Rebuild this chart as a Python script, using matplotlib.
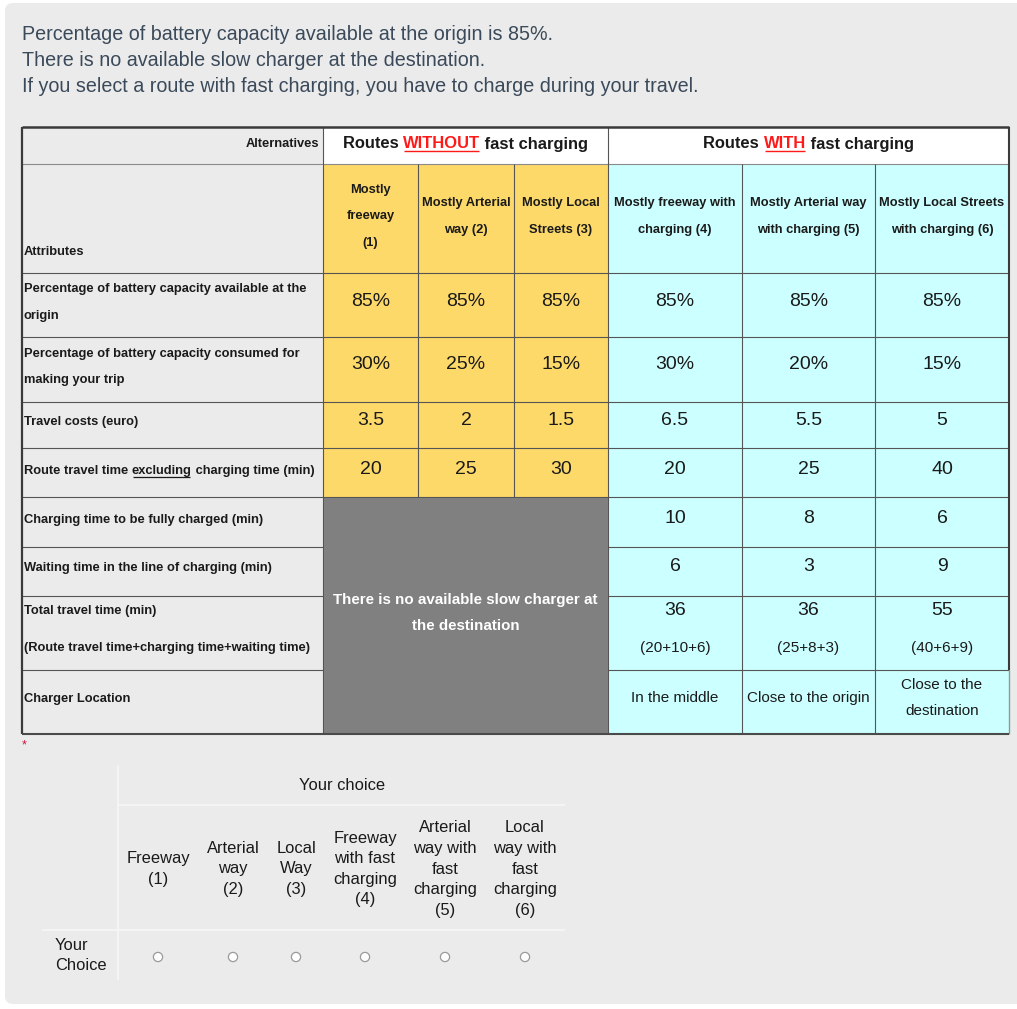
import matplotlib
matplotlib.use("Agg")
import matplotlib.pyplot as plt
from matplotlib.patches import Rectangle, FancyBboxPatch, Circle

plt.rcParams['font.family'] = ['Liberation Sans', 'DejaVu Sans']

# ---------------- data ----------------
intro_lines = [
    "Percentage of battery capacity available at the origin is 85%.",
    "There is no available slow charger at the destination.",
    "If you select a route with fast charging, you have to charge during your travel.",
]
group_titles = [("Routes ", "WITHOUT", " fast charging"), ("Routes ", "WITH", " fast charging")]
col_headers = [
    ["Mostly", "freeway", "(1)"],
    ["Mostly Arterial", "way (2)"],
    ["Mostly Local", "Streets (3)"],
    ["Mostly freeway with", "charging (4)"],
    ["Mostly Arterial way", "with charging (5)"],
    ["Mostly Local Streets", "with charging (6)"],
]
attributes = [
    ["Percentage of battery capacity available at the", "origin"],
    ["Percentage of battery capacity consumed for", "making your trip"],
    ["Travel costs (euro)"],
    ["Route travel time excluding charging time (min)"],
    ["Charging time to be fully charged (min)"],
    ["Waiting time in the line of charging (min)"],
    ["Total travel time (min)", "(Route travel time+charging time+waiting time)"],
    ["Charger Location"],
]
battery_available = [85, 85, 85, 85, 85, 85]
battery_consumed = [30, 25, 15, 30, 20, 15]
travel_costs = ["3.5", "2", "1.5", "6.5", "5.5", "5"]
route_time = [20, 25, 30, 20, 25, 40]
charging_time = [10, 8, 6]
waiting_time = [6, 3, 9]
charger_location = [["In the middle"], ["Close to the origin"], ["Close to the", "destination"]]
no_charger_text = ["There is no available slow charger at", "the destination"]
choice_labels = [
    ["Freeway", "(1)"],
    ["Arterial", "way", "(2)"],
    ["Local", "Way", "(3)"],
    ["Freeway", "with fast", "charging", "(4)"],
    ["Arterial", "way with", "fast", "charging", "(5)"],
    ["Local", "way with", "fast", "charging", "(6)"],
]

# ---------------- layout ----------------
W, H = 1017, 1009
fig = plt.figure(figsize=(W / 100, H / 100), dpi=100)
fig.patch.set_facecolor("white")
ax = fig.add_axes([0, 0, 1, 1])
ax.set_xlim(0, W)
ax.set_ylim(H, 0)
ax.axis("off")

PAGE = "#ebebeb"
YEL = "#fdd969"
CYAN = "#ccffff"
GREY = "#808080"
TXT = "#1a1a1a"
INTRO = "#3b4a5a"
GRID = "#555555"
BFS = 9.3      # small bold labels
VFS = 14.0     # cell values
SFS = 11.0     # small cell text
CFS = 11.9     # choice table
VA = "center_baseline"
DY = -1.5


def txt(x, y, s, **kw):
    kw.setdefault("va", VA)
    return ax.text(x, y + DY, s, **kw)


ax.add_patch(FancyBboxPatch((5, 3), W + 20, 1001, boxstyle="round,pad=0,rounding_size=8",
                            fc=PAGE, ec="none", zorder=0))

for i, s in enumerate(intro_lines):
    txt(22, 34 + 26 * i, s, fontsize=14.2, color=INTRO, ha="left")

xs = [22, 323, 418, 514, 608, 742, 875, 1009]
rows = [127, 164, 273, 337, 402, 448, 497, 547, 596, 670, 734]
cx = [(xs[i + 1] + xs[i + 2]) / 2 for i in range(6)]


def rect(x0, y0, x1, y1, fc, z=1):
    ax.add_patch(Rectangle((x0, y0), x1 - x0, y1 - y0, fc=fc, ec="none", zorder=z))


def hline(y, x0, x1, c=GRID, lw=0.8, z=3):
    ax.plot([x0, x1], [y, y], color=c, lw=lw, zorder=z, solid_capstyle="butt")


def vline(x, y0, y1, c=GRID, lw=0.8, z=3):
    ax.plot([x, x], [y0, y1], color=c, lw=lw, zorder=z, solid_capstyle="butt")


def lines_at(x, yc, lines, gap, **kw):
    n = len(lines)
    for k, s in enumerate(lines):
        txt(x, yc + (k - (n - 1) / 2) * gap, s, **kw)


# backgrounds
rect(xs[1], rows[0], xs[7], rows[1], "white")
for c in range(6):
    for r in range(1, 10):
        if c < 3 and r >= 6:
            continue
        rect(xs[c + 1], rows[r], xs[c + 2], rows[r + 1], YEL if c < 3 else CYAN)
rect(xs[1], rows[6], xs[4], rows[10], GREY)

# grid lines
for r in range(1, 10):
    hline(rows[r], xs[0], xs[7], c="#8a8a8a" if r == 1 else GRID)
vline(xs[1], rows[0], rows[10])
vline(xs[4], rows[0], rows[10])
for c in [2, 3]:
    vline(xs[c], rows[1], rows[6])
for c in [5, 6]:
    vline(xs[c], rows[1], rows[10])
rect(xs[1] + 0.5, rows[6] + 0.5, xs[4] - 0.5, rows[10], GREY, z=4)
# outer borders
hline(rows[0], xs[0], xs[7], c="#3a3a3a", lw=1.8, z=5)
vline(xs[0], rows[0], rows[10], c="#3a3a3a", lw=1.6, z=5)
vline(xs[7], rows[0], rows[9], c="#3a3a3a", lw=1.5, z=5)
vline(xs[7], rows[9], rows[10], c="#8a9a9a", lw=1.0, z=5)
hline(rows[10], xs[0], xs[7], c="#4a4a4a", lw=1.5, z=5)

# header row 1
txt(319, 144, "Alternatives", fontsize=BFS, fontweight="bold", ha="right", color=TXT)
renderer = fig.canvas.get_renderer()
for g, (a, b, c) in enumerate(group_titles):
    center = (xs[1] + xs[4]) / 2 if g == 0 else (xs[4] + xs[7]) / 2
    parts = [(a, TXT), (b, "#ff1a1a"), (c, TXT)]
    tmp = []
    total = 0
    for s, col in parts:
        t = ax.text(0, 148.5, s, fontsize=11.9, fontweight="bold", va="baseline", ha="left", color=col, zorder=6)
        w = t.get_window_extent(renderer=renderer).width
        tmp.append((t, w))
        total += w
    x = center - total / 2
    for k, (t, w) in enumerate(tmp):
        t.set_x(x)
        if k == 1:
            hline(151.0, x + 1, x + w - 1, c="#ff1a1a", lw=1.0, z=6)
        x += w

# header row 2
txt(24, 252, "Attributes", fontsize=BFS, fontweight="bold", ha="left", color=TXT)
for c, lab in enumerate(col_headers):
    lines_at(cx[c], 216.5, lab, 26.5, fontsize=BFS, fontweight="bold", ha="center", color=TXT, zorder=6)

# attribute labels
att_y = [(289, 316), (354, 380), (422,), (471,), (520,), (568,), (611, 648), (699,)]
for lab, ys in zip(attributes, att_y):
    for s, y in zip(lab, ys):
        if "excluding" in s:
            pre, post = s.split("excluding")
            t1 = txt(24, y, pre, fontsize=BFS, fontweight="bold", ha="left", color=TXT)
            w1 = t1.get_window_extent(renderer=renderer).width
            t2 = txt(24 + w1, y, "excluding", fontsize=BFS, fontweight="bold", ha="left", color=TXT)
            w2 = t2.get_window_extent(renderer=renderer).width
            hline(y + DY + 7.0, 24 + w1 + 1, 24 + w1 + w2 - 2, c=TXT, lw=0.9, z=6)
            txt(24 + w1 + w2, y, post, fontsize=BFS, fontweight="bold", ha="left", color=TXT)
        else:
            txt(24, y, s, fontsize=BFS, fontweight="bold", ha="left", color=TXT)

# values
for c in range(6):
    txt(cx[c], 301, f"{battery_available[c]}%", fontsize=VFS, ha="center", color=TXT, zorder=6)
    txt(cx[c], 364, f"{battery_consumed[c]}%", fontsize=VFS, ha="center", color=TXT, zorder=6)
    txt(cx[c], 420, travel_costs[c], fontsize=VFS, ha="center", color=TXT, zorder=6)
    txt(cx[c], 469, str(route_time[c]), fontsize=VFS, ha="center", color=TXT, zorder=6)
for k in range(3):
    c = k + 3
    txt(cx[c], 518, str(charging_time[k]), fontsize=VFS, ha="center", color=TXT, zorder=6)
    txt(cx[c], 566, str(waiting_time[k]), fontsize=VFS, ha="center", color=TXT, zorder=6)
    tot = route_time[c] + charging_time[k] + waiting_time[k]
    txt(cx[c], 610, str(tot), fontsize=VFS, ha="center", color=TXT, zorder=6)
    txt(cx[c], 648, f"({route_time[c]}+{charging_time[k]}+{waiting_time[k]})", fontsize=SFS,
        ha="center", color=TXT, zorder=6)
    lines_at(cx[c], 698, charger_location[k], 26, fontsize=SFS, ha="center", color=TXT, zorder=6)

lines_at((xs[1] + xs[4]) / 2, 613, no_charger_text, 26, fontsize=10.9, fontweight="bold",
         ha="center", color="white", zorder=6)

# asterisk
ax.text(24, 745, "*", fontsize=9, color="#d0103a", ha="center", va="center")

# choice table
LINE = "#f6f6f6"
vline(118, 765, 980, c=LINE, lw=1.2, z=2)
hline(805, 118, 565, c=LINE, lw=1.2, z=2)
hline(930, 42, 565, c=LINE, lw=1.2, z=2)
txt(342, 785, "Your choice", fontsize=CFS, ha="center", color=TXT)
choice_x = [158, 233, 296, 365, 445, 525]
for x, lab in zip(choice_x, choice_labels):
    lines_at(x, 869, lab, 20.6, fontsize=CFS, ha="center", color=TXT)
    ax.add_patch(Circle((x, 957), 4.6, fc="white", ec="#9a9a9a", lw=0.9, zorder=4))
lines_at(55, 955.5, ["Your", "Choice"], 21, fontsize=CFS, ha="left", color=TXT)

fig.savefig("out.png", dpi=100, facecolor="white")
